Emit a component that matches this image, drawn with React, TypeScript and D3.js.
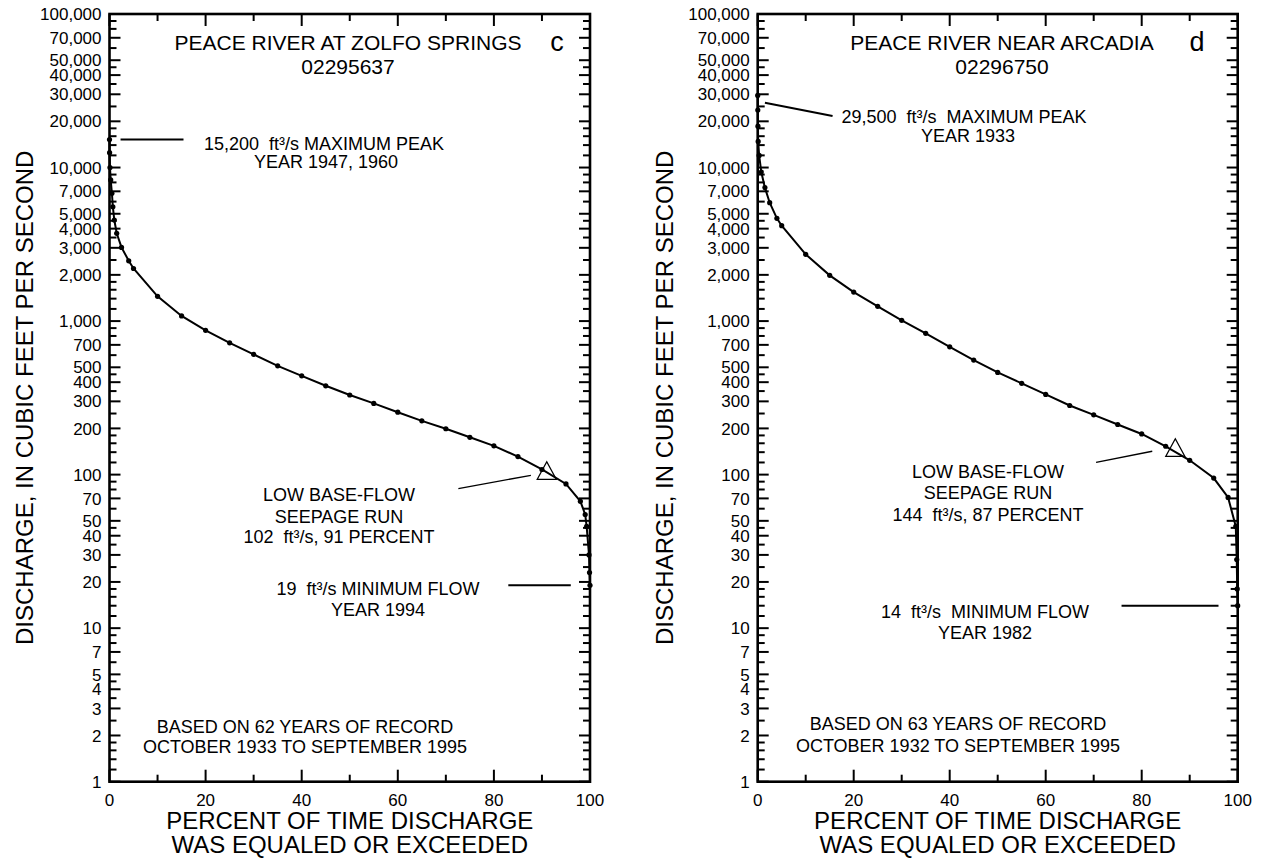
import React from 'react';
import * as d3 from 'd3';

// ---------- data ----------
const yLabelValues = [1, 2, 3, 4, 5, 7, 10, 20, 30, 40, 50, 70, 100, 200, 300, 400, 500, 700, 1000, 2000, 3000, 4000, 5000, 7000, 10000, 20000, 30000, 40000, 50000, 70000, 100000];
const yMinorMantissas = [1.2, 1.4, 1.6, 1.8, 2.5, 3.5, 4.5, 6, 8, 9];
const yDecades = [1, 10, 100, 1000, 10000];
const xTickValues = [0, 10, 20, 30, 40, 50, 60, 70, 80, 90, 100];
const xLabelValues = [0, 20, 40, 60, 80, 100];

const zolfoPercent = [0, 0.02, 0.1, 0.25, 0.5, 0.7, 1, 1.5, 2.5, 4, 5, 10, 15, 20, 25, 30, 35, 40, 45, 50, 55, 60, 65, 70, 75, 80, 85, 90, 95, 98, 99, 99.3, 99.8, 99.9, 100];
const zolfoDischarge = [15200, 12500, 10000, 8300, 6800, 5550, 4550, 3730, 3020, 2470, 2200, 1450, 1080, 870, 722, 607, 511, 440, 379, 330, 291, 255, 224, 199, 175, 154, 131, 108, 87, 67, 55, 46, 30, 23, 19];

const arcadiaPercent = [0, 0.02, 0.05, 0.1, 0.3, 0.75, 1.5, 2.5, 4, 5, 10, 15, 20, 25, 30, 35, 40, 45, 50, 55, 60, 65, 70, 75, 80, 85, 90, 95, 98, 99.6, 99.8, 99.9, 100];
const arcadiaDischarge = [29500, 23700, 18600, 14800, 12000, 9350, 7400, 5900, 4670, 4180, 2720, 1985, 1545, 1247, 1011, 832, 680, 557, 463, 393, 333, 282, 245, 212, 184, 153, 124, 95, 71, 46, 28, 18, 14];

// seepage run points [percent, discharge]
const zolfoSeepage = [91, 102];
const arcadiaSeepage = [87, 144];

// leader lines in data coordinates [[p1, q1], [p2, q2]]
const zolfoLeaders = [
  [[2.3, 15200], [15.4, 15200]],
  [[72.6, 81], [87.7, 99]],
  [[83, 19], [96, 19]],
];
const arcadiaLeaders = [
  [[1.5, 26400], [15.6, 21650]],
  [[70.5, 120], [82.2, 142]],
  [[75.8, 14], [96, 14]],
];

const FONT = "'Liberation Sans', Arial, Helvetica, sans-serif";

const fmt = d3.format(',');

type TextLine = { x: number; y: number; text: string; anchor?: string };

interface PanelProps {
  x0: number;
  x1: number;
  percent: number[];
  discharge: number[];
  seepage: number[];
  leaders: number[][][];
  title: string;
  station: string;
  titleX: number;
  letter: string;
  letterX: number;
  yLabelX: number;
  texts: TextLine[];
}

const Y_TOP = 14;
const Y_BOTTOM = 781.7;

function Panel(p: PanelProps) {
  const x = d3.scaleLinear().domain([0, 100]).range([p.x0, p.x1]);
  const y = d3.scaleLog().domain([1, 100000]).range([Y_BOTTOM, Y_TOP]);
  const pts = p.percent.map((v, i) => [v, p.discharge[i]] as [number, number]);
  const line = d3.line<[number, number]>().x(d => x(d[0])).y(d => y(d[1]));
  const minorVals: number[] = [];
  yDecades.forEach(d => yMinorMantissas.forEach(m => minorVals.push(d * m)));
  const majorLen = 11;
  const minorLen = 7;
  const sx = x(p.seepage[0]);
  const sy = y(p.seepage[1]);
  const tri = `M${sx},${sy - 11.5}L${sx + 9.5},${sy + 6}L${sx - 9.5},${sy + 6}Z`;
  const yMid = (Y_TOP + Y_BOTTOM) / 2;
  return (
    <g>
      {yLabelValues.map(v => (
        <g key={'ym' + v}>
          <line x1={p.x0} x2={p.x0 + majorLen} y1={y(v)} y2={y(v)} stroke="#000" strokeWidth={2} />
          <line x1={p.x1} x2={p.x1 - majorLen} y1={y(v)} y2={y(v)} stroke="#000" strokeWidth={2} />
          <text x={p.x0 - 8} y={y(v)} dy="0.36em" textAnchor="end" fontSize={17} fontFamily={FONT}>{fmt(v)}</text>
        </g>
      ))}
      {minorVals.map(v => (
        <g key={'yn' + v}>
          <line x1={p.x0} x2={p.x0 + minorLen} y1={y(v)} y2={y(v)} stroke="#000" strokeWidth={2} />
          <line x1={p.x1} x2={p.x1 - minorLen} y1={y(v)} y2={y(v)} stroke="#000" strokeWidth={2} />
        </g>
      ))}
      {xTickValues.map(v => {
        const len = v % 20 === 0 ? 12 : 7;
        return (
          <g key={'xt' + v}>
            <line x1={x(v)} x2={x(v)} y1={Y_BOTTOM} y2={Y_BOTTOM - len} stroke="#000" strokeWidth={2} />
            <line x1={x(v)} x2={x(v)} y1={Y_TOP} y2={Y_TOP + len} stroke="#000" strokeWidth={2} />
          </g>
        );
      })}
      {xLabelValues.map(v => (
        <text key={'xl' + v} x={x(v)} y={806} textAnchor="middle" fontSize={17} fontFamily={FONT}>{v}</text>
      ))}
      <rect x={p.x0} y={Y_TOP} width={p.x1 - p.x0} height={Y_BOTTOM - Y_TOP} fill="none" stroke="#000" strokeWidth={2.6} />
      <path d={line(pts) || ''} fill="none" stroke="#000" strokeWidth={2} />
      {pts.map((d, i) => (
        <circle key={'pt' + i} cx={x(d[0])} cy={y(d[1])} r={2.6} fill="#000" />
      ))}
      <path d={tri} fill="none" stroke="#000" strokeWidth={1.3} />
      {p.leaders.map((l, i) => (
        <line key={'ld' + i} x1={x(l[0][0])} y1={y(l[0][1])} x2={x(l[1][0])} y2={y(l[1][1])} stroke="#000" strokeWidth={i === 1 ? 1.3 : 2} />
      ))}
      <text x={p.titleX} y={50} textAnchor="middle" fontSize={21} fontFamily={FONT}>{p.title}</text>
      <text x={p.titleX} y={74} textAnchor="middle" fontSize={21} fontFamily={FONT}>{p.station}</text>
      <text x={p.letterX} y={51} textAnchor="middle" fontSize={27} fontFamily={FONT}>{p.letter}</text>
      {p.texts.map((t, i) => (
        <text key={'tx' + i} x={t.x} y={t.y} textAnchor={t.anchor || 'middle'} fontSize={18} fontFamily={FONT} style={{ whiteSpace: 'pre' }}>{t.text}</text>
      ))}
      <text transform={`translate(${p.yLabelX},${yMid}) rotate(-90)`} textAnchor="middle" dy="0.36em" fontSize={24} fontFamily={FONT}>DISCHARGE, IN CUBIC FEET PER SECOND</text>
      <text x={(p.x0 + p.x1) / 2} y={829} textAnchor="middle" fontSize={24} fontFamily={FONT}>PERCENT OF TIME DISCHARGE</text>
      <text x={(p.x0 + p.x1) / 2} y={853} textAnchor="middle" fontSize={24} fontFamily={FONT}>WAS EQUALED OR EXCEEDED</text>
    </g>
  );
}

export default function App() {
  const leftTexts: TextLine[] = [
    { x: 324, y: 150, text: '15,200  ft³/s MAXIMUM PEAK' },
    { x: 326, y: 168, text: 'YEAR 1947, 1960' },
    { x: 339, y: 501, text: 'LOW BASE-FLOW' },
    { x: 339, y: 523, text: 'SEEPAGE RUN' },
    { x: 339, y: 543, text: '102  ft³/s, 91 PERCENT' },
    { x: 378, y: 595, text: '19  ft³/s MINIMUM FLOW' },
    { x: 378, y: 616, text: 'YEAR 1994' },
    { x: 305, y: 733, text: 'BASED ON 62 YEARS OF RECORD' },
    { x: 305, y: 753, text: 'OCTOBER 1933 TO SEPTEMBER 1995' },
  ];
  const rightTexts: TextLine[] = [
    { x: 964, y: 123, text: '29,500  ft³/s  MAXIMUM PEAK' },
    { x: 968, y: 142, text: 'YEAR 1933' },
    { x: 988, y: 478, text: 'LOW BASE-FLOW' },
    { x: 988, y: 499, text: 'SEEPAGE RUN' },
    { x: 988, y: 521, text: '144  ft³/s, 87 PERCENT' },
    { x: 985, y: 618, text: '14  ft³/s  MINIMUM FLOW' },
    { x: 985, y: 639, text: 'YEAR 1982' },
    { x: 958, y: 730, text: 'BASED ON 63 YEARS OF RECORD' },
    { x: 958, y: 752, text: 'OCTOBER 1932 TO SEPTEMBER 1995' },
  ];
  return (
    <svg width={1262} height={860} style={{ position: 'absolute', left: 0, top: 0, background: '#fff' }}>
      <rect x={0} y={0} width={1262} height={860} fill="#fff" />
      <Panel x0={109.5} x1={590} percent={zolfoPercent} discharge={zolfoDischarge} seepage={zolfoSeepage} leaders={zolfoLeaders}
        title="PEACE RIVER AT ZOLFO SPRINGS" station="02295637" titleX={348} letter="c" letterX={557} yLabelX={24} texts={leftTexts} />
      <Panel x0={757.7} x1={1237.7} percent={arcadiaPercent} discharge={arcadiaDischarge} seepage={arcadiaSeepage} leaders={arcadiaLeaders}
        title="PEACE RIVER NEAR ARCADIA" station="02296750" titleX={1002} letter="d" letterX={1197} yLabelX={664} texts={rightTexts} />
    </svg>
  );
}
